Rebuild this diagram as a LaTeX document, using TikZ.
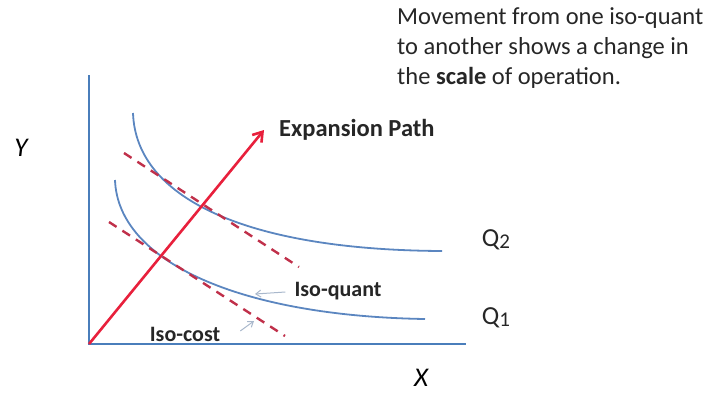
\documentclass[tikz,border=0pt]{standalone}
\usepackage{fontspec}
\setmainfont{Carlito}
\usetikzlibrary{arrows.meta}
\definecolor{axisblue}{HTML}{4A7EBB}
\definecolor{curveblue}{HTML}{5B86C0}
\definecolor{pathred}{HTML}{E8203C}
\definecolor{costred}{HTML}{C0304A}
\definecolor{pointer}{HTML}{A9B8CC}
\tikzset{
  axisline/.style={axisblue, line width=2.6pt},
  quant/.style={curveblue, line width=1.8pt},
  isocost/.style={costred, line width=2.4pt, dash pattern=on 9pt off 7pt},
  exppath/.style={pathred, line width=2.6pt, -{Straight Barb[length=9pt,width=12pt,line width=2.6pt]}},
  ptr/.style={pointer, line width=1pt, -{Straight Barb[length=5pt,width=7pt]}},
  lbl/.style={font=\fontsize{22}{26}\selectfont\bfseries, text=black!85, inner sep=0pt},
  qlbl/.style={font=\fontsize{26}{30}\selectfont, text=black!85, inner sep=0pt, anchor=center},
}
\begin{document}
\begin{tikzpicture}[x=1pt,y=-1pt]
\useasboundingbox (0,0) rectangle (714,392);
% axes
\coordinate (O) at (89,344);
\coordinate (Ytop) at (89,75);
\coordinate (Xend) at (466,344);
\draw[axisline] (Ytop) -- (O) -- (Xend);
% iso-quants
\coordinate (q2s) at (133,113);
\coordinate (q2e) at (442,251);
\coordinate (q1s) at (115,180);
\coordinate (q1e) at (425,319);
\draw[quant] (q2s) .. controls (136,200) and (250,250) .. (q2e);
\draw[quant] (q1s) .. controls (118,262) and (240,316) .. (q1e);
% iso-cost lines
\coordinate (c2a) at (124,153);
\coordinate (c2b) at (299,267);
\coordinate (c1a) at (109,222);
\coordinate (c1b) at (285,336);
\draw[isocost] (c2a) -- (c2b);
\draw[isocost] (c1a) -- (c1b);
% expansion path
\coordinate (Etip) at (264,130);
\draw[exppath] (O) -- (Etip);
% labels
\node[lbl, font=\fontsize{24.5}{28}\selectfont\bfseries, anchor=west] (exp) at (279,130) {Expansion Path};
\node[lbl, anchor=center] (iq) at (338,291) {Iso-quant};
\node[lbl, anchor=base] (ic) at (185,341) {Iso-cost};
\coordinate (iqp) at (255,294);
\coordinate (icp) at (254,321);
\draw[ptr] (iq.west) ++(-9,1) -- (iqp);
\draw[ptr] (ic.east) ++(20,-3) -- (icp);
\node[qlbl] (q2) at (496,240) {Q\raisebox{-2pt}{\fontsize{21}{24}\selectfont 2}};
\node[qlbl] (q1) at (496,318) {Q\raisebox{-2pt}{\fontsize{21}{24}\selectfont 1}};
\node[font=\fontsize{27}{30}\selectfont\itshape, inner sep=0pt] (Y) at (21,148) {Y};
\node[font=\fontsize{27}{30}\selectfont\itshape, inner sep=0pt] (X) at (421,378) {X};
\node[font=\fontsize{24.5}{30}\selectfont, text=black!85, align=left, anchor=north west, inner sep=0pt] (note) at (397,7) {Movement from one iso-quant\\to another shows a change in\\the \textbf{scale} of operation.};
\end{tikzpicture}
\end{document}
